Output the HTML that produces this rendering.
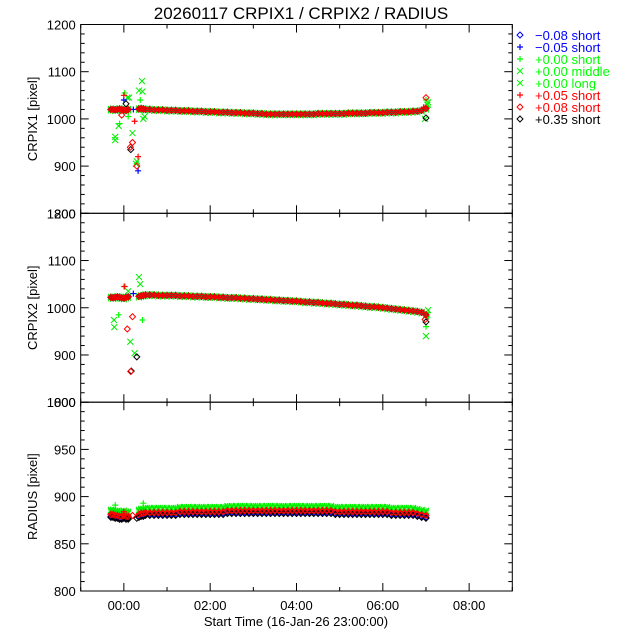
<!DOCTYPE html>
<html><head><meta charset="utf-8"><style>
html,body{margin:0;padding:0;background:#fff;}
svg{display:block;font-family:"Liberation Sans",sans-serif;}
</style></head><body>
<svg id="chart" width="640" height="640" viewBox="0 0 640 640" xmlns="http://www.w3.org/2000/svg">
<rect width="640" height="640" fill="#fff"/>
<text x="301" y="19" font-size="17" text-anchor="middle">20260117 CRPIX1 / CRPIX2 / RADIUS</text>
<g id="axes"></g>
<g id="marks"></g>
<g id="legend"></g>
<text x="296" y="626" font-size="13" text-anchor="middle">Start Time (16-Jan-26 23:00:00)</text>
</svg>
<script>
// ---- data ----
const times = [0.5,0.6,0.7,0.8,0.9,1.0,1.1,1.2,1.3,1.4,1.5,1.6,1.7,1.8,1.9,2.0,2.1,2.2,2.3,2.4,2.5,2.6,2.7,2.8,2.9,3.0,3.1,3.2,3.3,3.4,3.5,3.6,3.7,3.8,3.9,4.0,4.1,4.2,4.3,4.4,4.5,4.6,4.7,4.8,4.9,5.0,5.1,5.2,5.3,5.4,5.5,5.6,5.7,5.8,5.9,6.0,6.1,6.2,6.3,6.4,6.5,6.6,6.7,6.8,6.9,7.0];
const crpix1Base = [1020,1020,1019,1019,1019,1018,1018,1018,1017,1017,1017,1016,1016,1016,1015,1015,1015,1014,1014,1014,1013,1013,1013,1012,1012,1012,1011,1011,1010,1010,1010,1010,1010,1010,1010,1010,1010,1010,1010,1010,1011,1011,1011,1011,1011,1011,1011,1012,1012,1012,1012,1012,1013,1013,1013,1013,1014,1014,1014,1015,1015,1015,1016,1016,1018,1022];
const crpix2Base = [1027,1027,1027,1026,1026,1026,1026,1026,1025,1025,1025,1024,1024,1024,1023,1023,1023,1022,1022,1021,1021,1021,1020,1020,1019,1019,1018,1018,1017,1017,1016,1016,1015,1015,1014,1014,1013,1012,1012,1011,1011,1010,1009,1009,1008,1007,1007,1006,1005,1005,1004,1003,1002,1002,1001,1000,999,998,997,996,995,994,993,992,990,985];
const radiusBase = [884,884,884,884,884,884,884,884,885,885,885,885,885,885,885,885,885,885,885,886,886,886,886,886,886,886,886,886,886,886,886,886,886,886,886,886,886,886,886,886,886,886,886,886,885,885,885,885,885,885,885,885,885,885,885,885,885,884,884,884,884,884,884,883,882,881];
// early baseline cluster
const earlyTimes = [-0.3,-0.25,-0.2,-0.15,-0.1,-0.05,0.0,0.05,0.1,0.35,0.4,0.45];
const crpix1EarlyBase = [1020,1020,1019,1020,1021,1020,1019,1018,1020,1021,1022,1021];
const crpix2EarlyBase = [1022,1021,1022,1023,1022,1021,1020,1022,1023,1024,1025,1026];
const radiusEarlyBase = [882,882,881,881,880,880,881,880,880,882,883,883];
// per-series offsets (order: -0.08 short, -0.05 short, +0.00 short, +0.00 middle, +0.00 long, +0.05 short, +0.08 short, +0.35 short)
const crpix1Offsets = [0,0,2,-2,1,0,0,0];
const crpix2Offsets = [0,0,2,-2,1,0,0,0];
const radiusOffsets = [-3,-3,4,3,4,0,-1,-4];
// scatter points [time(h), value, seriesIndex]
const crpix1Early = [[-0.2,955,3],[-0.2,962,4],[-0.1,990,2],[-0.12,985,3],[-0.05,1008,6],[0.0,1050,5],[0.0,1040,1],[0.02,1055,2],[0.05,1032,7],[0.08,1045,3],[0.1,1005,2],[0.12,1045,4],[0.15,940,6],[0.16,935,7],[0.2,950,6],[0.2,970,3],[0.22,1020,1],[0.25,995,5],[0.3,900,6],[0.3,910,3],[0.28,905,4],[0.33,890,1],[0.33,920,5],[0.35,1060,3],[0.38,1040,2],[0.42,1080,3],[0.43,1058,4],[0.45,1000,3],[0.48,1005,4],
  [6.95,1025,5],[6.98,1000,3],[7.0,1002,7],[7.0,1045,6],[7.0,1040,2],[7.03,1030,4],[7.05,1035,3],[7.05,1025,2]];
const crpix2Early = [[-0.23,974,3],[-0.22,959,4],[-0.12,985,2],[0.0,1045,2],[0.02,1045,5],[0.08,955,6],[0.1,1035,3],[0.15,928,3],[0.16,865,6],[0.17,866,7],[0.2,981,6],[0.22,1030,1],[0.25,904,3],[0.3,896,7],[0.35,1065,3],[0.38,1050,4],[0.43,974,2],
  [6.95,990,5],[6.98,975,6],[7.0,940,3],[7.0,960,2],[7.0,970,7],[7.03,985,4],[7.05,995,3]];
const radiusEarly = [[-0.2,891,2],[-0.1,878,3],[0.0,884,5],[0.1,877,7],[0.2,880,6],[0.3,877,7],[0.45,893,2],[0.4,883,5]];
const xTickLabels = ["00:00","02:00","04:00","06:00","08:00"];
const xTickValues = [0,2,4,6,8];
const legendLabels = ["\u22120.08 short","\u22120.05 short","+0.00 short","+0.00 middle","+0.00 long","+0.05 short","+0.08 short","+0.35 short"];
const seriesColors = ["#0000ff","#0000ff","#00ff00","#00ee00","#00ee00","#ff0000","#ff0000","#000000"];
const seriesSymbols = ["diamond","plus","plus","x","x","plus","diamond","diamond"];
const drawOrder = [2,3,4,0,1,5,7,6];

// ---- layout ----
const NS="http://www.w3.org/2000/svg";
const X0=80.7,X1=512.3,XMIN=-1,XMAX=9;
const xs = t => X0+(t-XMIN)/(XMAX-XMIN)*(X1-X0);
const panels = [
 {name:"crpix1",top:24.5,bot:213.3,min:800,max:1200,major:100,minor:20,title:"CRPIX1 [pixel]",base:crpix1Base,eb:crpix1EarlyBase,off:crpix1Offsets,early:crpix1Early},
 {name:"crpix2",top:213.3,bot:402.2,min:800,max:1200,major:100,minor:20,title:"CRPIX2 [pixel]",base:crpix2Base,eb:crpix2EarlyBase,off:crpix2Offsets,early:crpix2Early},
 {name:"radius",top:402.2,bot:591,min:800,max:1000,major:50,minor:10,title:"RADIUS [pixel]",base:radiusBase,eb:radiusEarlyBase,off:radiusOffsets,early:radiusEarly}
];
const axesG=document.getElementById('axes'), marksG=document.getElementById('marks'), legG=document.getElementById('legend');
function mk(tag,attrs,parent){const e=document.createElementNS(NS,tag);for(const k in attrs)e.setAttribute(k,attrs[k]);parent.appendChild(e);return e;}
function marker(sym,x,y,color,parent){
  const s=3;let e;
  if(sym==="diamond") e=mk('path',{d:`M${x} ${y-s}L${x+s} ${y}L${x} ${y+s}L${x-s} ${y}Z`,fill:'none',stroke:color,'stroke-width':1},parent);
  else if(sym==="plus") e=mk('path',{d:`M${x-s} ${y}H${x+s}M${x} ${y-s}V${y+s}`,stroke:color,'stroke-width':1.2},parent);
  else e=mk('path',{d:`M${x-s} ${y-s}L${x+s} ${y+s}M${x+s} ${y-s}L${x-s} ${y+s}`,stroke:color,'stroke-width':1},parent);
  return e;
}
panels.forEach(p=>{
  const ys=v=>p.bot-(v-p.min)/(p.max-p.min)*(p.bot-p.top);
  const g=mk('g',{},axesG);
  
  
  mk('rect',{x:X0,y:p.top,width:X1-X0,height:p.bot-p.top,fill:'none',stroke:'#000','stroke-width':1},g);
  for(let v=p.min;v<=p.max+0.001;v+=p.minor){
    const y=ys(v);const isMaj=Math.abs(((v-p.min)/p.major)-Math.round((v-p.min)/p.major))<1e-6;const L=isMaj?8:4;
    mk('line',{x1:X0,y1:y,x2:X0+L,y2:y,stroke:'#000'},g);
    mk('line',{x1:X1,y1:y,x2:X1-L,y2:y,stroke:'#000'},g);
    if(isMaj){const t=mk('text',{x:X0-5,y:y+5,'font-size':13,'text-anchor':'end'},g);t.textContent=v;
      
      }
  }
  for(let h=XMIN;h<=XMAX;h+=1){
    const x=xs(h);const L=(h%2===0)?8:4;
    mk('line',{x1:x,y1:p.bot,x2:x,y2:p.bot-L,stroke:'#000'},g);
    mk('line',{x1:x,y1:p.top,x2:x,y2:p.top+L,stroke:'#000'},g);
  }
  const yt=mk('text',{transform:`translate(37 ${(p.top+p.bot)/2}) rotate(-90)`,'font-size':13,'text-anchor':'middle'},g);
  yt.textContent=p.title;
  
  
  const mg=mk('g',{},marksG);
  
  
  drawOrder.forEach(si=>{
    earlyTimes.forEach((t,i)=>{
      const m=marker(seriesSymbols[si],xs(t),ys(p.eb[i]+p.off[si]),seriesColors[si],mg);
      
      
    });
    times.forEach((t,i)=>{
      const m=marker(seriesSymbols[si],xs(t),ys(p.base[i]+p.off[si]),seriesColors[si],mg);
      
      
    });
    p.early.filter(d=>d[2]===si).forEach(d=>{
      const m=marker(seriesSymbols[si],xs(d[0]),ys(d[1]),seriesColors[si],mg);
      
      
    });
  });
});
xTickValues.forEach((h,i)=>{
  const t=mk('text',{x:xs(h),y:610,'font-size':13,'text-anchor':'middle'},axesG);
  t.textContent=xTickLabels[i];
  
  
});
legendLabels.forEach((lab,i)=>{
  const y=35+12*i;
  const g=mk('g',{},legG);
  
  
  marker(seriesSymbols[i],520,y,seriesColors[i]==="#00ee00"?"#00ff00":seriesColors[i],g);
  const t=mk('text',{x:535,y:y+5,'font-size':13,fill:seriesColors[i]==="#00ee00"?"#00ff00":seriesColors[i]},g);
  t.textContent=lab;
});
</script>
</body></html>
